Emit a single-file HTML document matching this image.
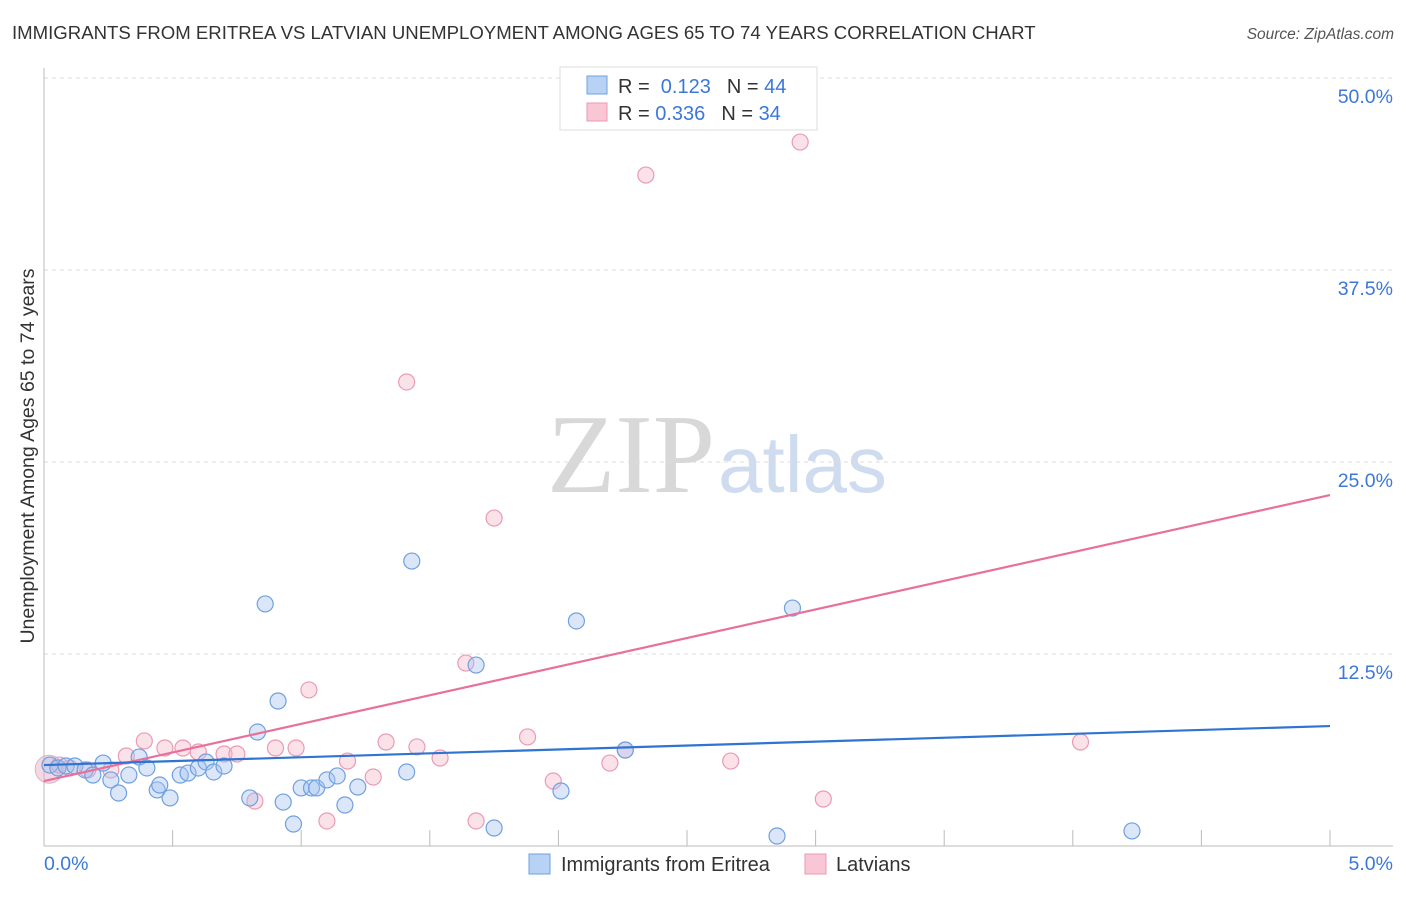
<!DOCTYPE html>
<html><head><meta charset="utf-8"><style>
body{margin:0;background:#fff;font-family:"Liberation Sans",sans-serif;}
svg text{font-family:"Liberation Sans",sans-serif;}
</style></head><body>
<svg width="1406" height="892" xmlns="http://www.w3.org/2000/svg">
<text x="12" y="39" font-size="18.6" fill="#333">IMMIGRANTS FROM ERITREA VS LATVIAN UNEMPLOYMENT AMONG AGES 65 TO 74 YEARS CORRELATION CHART</text>
<text x="1394" y="39" font-size="15.5" fill="#555" font-style="italic" text-anchor="end">Source: ZipAtlas.com</text>
<text x="715" y="492" font-size="112" fill="#d8d8d8" text-anchor="end" style="font-family:'Liberation Serif',serif">ZIP</text>
<text x="718" y="492" font-size="80" fill="#cfdcf0">atlas</text>
<g id="grid"></g>
<g id="axes"></g>
<g id="marks"></g>
<text transform="translate(34,456) rotate(-90)" font-size="19.5" fill="#333" text-anchor="middle">Unemployment Among Ages 65 to 74 years</text>
<text x="44" y="870" font-size="19.5" fill="#3b78d8">0.0%</text>
<text x="1393" y="870" font-size="19.5" fill="#3b78d8" text-anchor="end">5.0%</text>
<g>
<rect x="560" y="67" width="257" height="63" fill="#fff" stroke="#ddd"/>
<rect x="587" y="76" width="20" height="18" fill="#b8d2f5" stroke="#6fa0e0"/>
<rect x="587" y="103" width="20" height="18" fill="#f9c6d6" stroke="#eb9ab5"/>
<text x="618" y="93" font-size="20" fill="#333">R = <tspan fill="#3b78d8">&#160;0.123</tspan><tspan dx="16">N = </tspan><tspan fill="#3b78d8">44</tspan></text>
<text x="618" y="120" font-size="20" fill="#333">R = <tspan fill="#3b78d8">0.336</tspan><tspan dx="16">N = </tspan><tspan fill="#3b78d8">34</tspan></text>
</g>
<g>
<rect x="529" y="854" width="21" height="20" fill="#b8d2f5" stroke="#6fa0e0"/>
<text x="561" y="871" font-size="20" fill="#333">Immigrants from Eritrea</text>
<rect x="805" y="854" width="21" height="20" fill="#f9c6d6" stroke="#eb9ab5"/>
<text x="836" y="871" font-size="20" fill="#333">Latvians</text>
</g>
</svg>
<script>
const yTicks=[12.5,25,37.5,50];
const yTickLabels=["12.5%","25.0%","37.5%","50.0%"];
const xTicks=[0,0.5,1,1.5,2,2.5,3,3.5,4,4.5,5];
const blueX=[0.023,0.054,0.086,0.12,0.16,0.19,0.23,0.26,0.29,0.33,0.37,0.40,0.44,0.45,0.49,0.53,0.56,0.60,0.63,0.66,0.70,0.80,0.83,0.86,0.91,0.93,0.97,1.00,1.04,1.06,1.10,1.14,1.17,1.22,1.41,1.43,1.68,1.75,2.01,2.07,2.26,2.85,2.91,4.23];
const blueY=[5.27,5.08,5.21,5.21,4.95,4.62,5.40,4.30,3.45,4.62,5.79,5.08,3.65,3.97,3.13,4.62,4.75,5.08,5.47,4.82,5.21,3.13,7.42,15.76,9.44,2.86,1.43,3.78,3.78,3.78,4.30,4.56,2.67,3.84,4.82,18.55,11.78,1.17,3.58,14.65,6.25,0.65,15.49,0.98];
const pinkX=[0.06,0.10,0.17,0.26,0.32,0.39,0.47,0.54,0.60,0.70,0.75,0.82,0.90,0.98,1.03,1.10,1.18,1.28,1.33,1.41,1.45,1.54,1.64,1.68,1.75,1.88,1.98,2.20,2.34,2.67,2.94,3.03,4.03,2.26];
const pinkY=[5.27,5.08,4.95,4.95,5.86,6.84,6.38,6.38,6.12,5.99,5.99,2.93,6.38,6.38,10.16,1.63,5.53,4.49,6.77,30.21,6.45,5.73,11.91,1.63,21.35,7.10,4.23,5.40,43.68,5.53,45.83,3.06,6.77,6.25];
const blueTrend=[5.27,7.81];
const pinkTrend=[4.23,22.85];
const NS="http://www.w3.org/2000/svg";
const X0=44,X1=1330,Y0=846,PXY=15.36;
const sx=v=>X0+(X1-X0)*v/5;
const sy=v=>Y0-v*PXY;
function mk(tag,attrs,parent){const e=document.createElementNS(NS,tag);for(const k in attrs)e.setAttribute(k,attrs[k]);document.getElementById(parent).appendChild(e);return e;}
yTicks.forEach((t,i)=>{
 const l=mk('line',{x1:X0,x2:1393,y1:sy(t),y2:sy(t),stroke:'#ddd','stroke-dasharray':'4,4'},'grid');
 
 
 const tx=mk('text',{x:1393,y:sy(t)+25,'font-size':19.5,fill:'#3b78d8','text-anchor':'end'},'grid');
 tx.textContent=yTickLabels[i];
 
 
});
let a=mk('line',{x1:X0,x2:X0,y1:68,y2:Y0,stroke:'#bbb'},'axes');


a=mk('line',{x1:X0,x2:1393,y1:Y0,y2:Y0,stroke:'#bbb'},'axes');


xTicks.forEach(t=>{
 const l=mk('line',{x1:sx(t),x2:sx(t),y1:Y0,y2:Y0-16,stroke:'#bbb'},'axes');
 
 
});
let big=mk('circle',{cx:sx(0.02),cy:sy(5.0),r:14,fill:'rgba(230,170,190,0.45)',stroke:'rgba(200,160,190,0.7)'},'marks');


pinkX.forEach((x,i)=>{
 const c=mk('circle',{cx:sx(x),cy:sy(pinkY[i]),r:8,fill:'rgba(244,182,200,0.4)',stroke:'#eb9ab5','stroke-width':1.2},'marks');
 
 
});
blueX.forEach((x,i)=>{
 const c=mk('circle',{cx:sx(x),cy:sy(blueY[i]),r:8,fill:'rgba(164,196,240,0.4)',stroke:'#6fa0e0','stroke-width':1.2},'marks');
 
 
});
let t1=mk('line',{x1:sx(0),x2:sx(5),y1:sy(pinkTrend[0]),y2:sy(pinkTrend[1]),stroke:'#e8709a','stroke-width':2.2},'marks');


let t2=mk('line',{x1:sx(0),x2:sx(5),y1:sy(blueTrend[0]),y2:sy(blueTrend[1]),stroke:'#2f74d0','stroke-width':2.2},'marks');


</script>
</body></html>
